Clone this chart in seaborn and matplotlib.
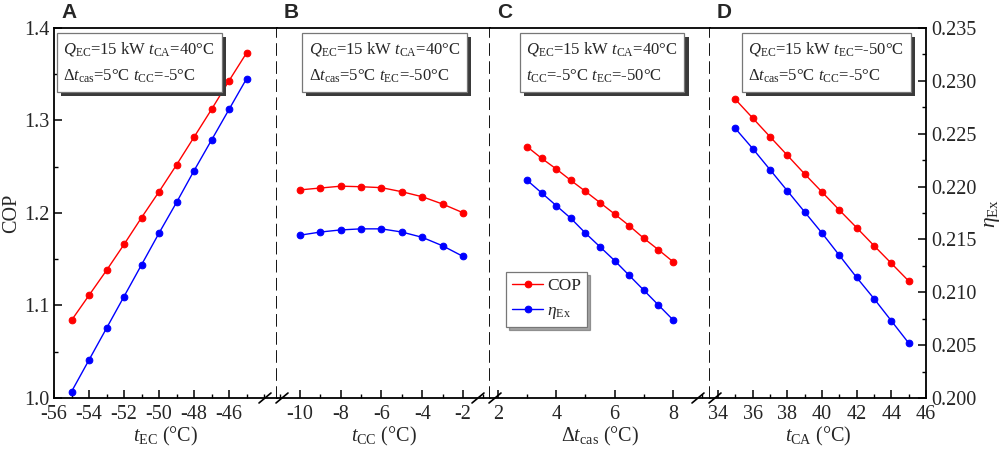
import matplotlib
matplotlib.use('Agg')
import matplotlib.pyplot as plt
import matplotlib.patheffects as pe
from matplotlib.lines import Line2D
from matplotlib.ticker import MultipleLocator, FormatStrFormatter
import seaborn as sns

# panel A: varying evaporating temperature t_EC
t_ec = [-55, -54, -53, -52, -51, -50, -49, -48, -47, -46, -45]
cop_a = [1.084, 1.111, 1.138, 1.166, 1.195, 1.223, 1.252, 1.282, 1.312, 1.343, 1.373]
eta_a = [0.2006, 0.2036, 0.2066, 0.2096, 0.2126, 0.2156, 0.2185, 0.2215, 0.2244, 0.2273, 0.2302]

# panel B: varying cascade condenser temperature t_CC
t_cc = [-10, -9, -8, -7, -6, -5, -4, -3, -2]
cop_b = [1.225, 1.227, 1.229, 1.2284, 1.2274, 1.223, 1.2176, 1.2097, 1.2003]
eta_b = [0.2154, 0.2157, 0.2159, 0.2160, 0.2160, 0.2157, 0.2152, 0.2144, 0.2134]

# panel C: varying cascade temperature difference
dt_cas = [3, 3.5, 4, 4.5, 5, 5.5, 6, 6.5, 7, 7.5, 8]
cop_c = [1.2717, 1.2591, 1.2476, 1.2353, 1.2234, 1.2112, 1.1989, 1.1863, 1.1727, 1.1603, 1.1474]
eta_c = [0.2206, 0.2194, 0.2182, 0.2170, 0.2156, 0.2143, 0.2130, 0.2116, 0.2102, 0.2088, 0.2074]

# panel D: varying condensing temperature t_CA
t_ca = [35, 36, 37, 38, 39, 40, 41, 42, 43, 44, 45]
cop_d = [1.3229, 1.3027, 1.2825, 1.2624, 1.2422, 1.2227, 1.2032, 1.1841, 1.1647, 1.1456, 1.1265]
eta_d = [0.2255, 0.2236, 0.2216, 0.2196, 0.2176, 0.2156, 0.2135, 0.2114, 0.2094, 0.2073, 0.2052]

# major x tick labels shown in each panel
xticks_a = [-56, -54, -52, -50, -48, -46]
xticks_b = [-10, -8, -6, -4, -2]
xticks_c = [2, 4, 6, 8]
xticks_d = [34, 36, 38, 40, 42, 44, 46]

panel_letters = ['A', 'B', 'C', 'D']
xlabels = [r'$t_\mathrm{EC}$ (°C)', r'$t_\mathrm{CC}$ (°C)',
           r'$\Delta t_\mathrm{cas}$ (°C)', r'$t_\mathrm{CA}$ (°C)']
box_texts = [
    r'$Q_\mathrm{EC}$=15 kW $t_\mathrm{CA}$=40°C' + '\n' + r'$\Delta t_\mathrm{cas}$=5°C $t_\mathrm{CC}$=-5°C',
    r'$Q_\mathrm{EC}$=15 kW $t_\mathrm{CA}$=40°C' + '\n' + r'$\Delta t_\mathrm{cas}$=5°C $t_\mathrm{EC}$=-50°C',
    r'$Q_\mathrm{EC}$=15 kW $t_\mathrm{CA}$=40°C' + '\n' + r'$t_\mathrm{CC}$=-5°C $t_\mathrm{EC}$=-50°C',
    r'$Q_\mathrm{EC}$=15 kW $t_\mathrm{EC}$=-50°C' + '\n' + r'$\Delta t_\mathrm{cas}$=5°C $t_\mathrm{CC}$=-5°C',
]
xs_all = [t_ec, t_cc, dt_cas, t_ca]
cops = [cop_a, cop_b, cop_c, cop_d]
etas = [eta_a, eta_b, eta_c, eta_d]
xticks_all = [xticks_a, xticks_b, xticks_c, xticks_d]
xlims = [(-56, -43.26), (-11.13, -0.67), (1.73, 9.27), (33.54, 46)]
box_x = [0.042, 0.148, 0.165, 0.178]

sns.set_theme(style='ticks')
plt.rcParams['font.family'] = ['Liberation Serif', 'DejaVu Serif']
plt.rcParams['mathtext.fontset'] = 'custom'
plt.rcParams['mathtext.rm'] = 'Liberation Serif'
plt.rcParams['mathtext.it'] = 'Liberation Serif:italic'
plt.rcParams['mathtext.bf'] = 'Liberation Serif:bold'
plt.rcParams['axes.unicode_minus'] = False
plt.rcParams['xtick.direction'] = 'in'
plt.rcParams['ytick.direction'] = 'in'

W, H = 1003, 454
edges = [54, 277, 490, 710, 926]
top, bottom = 28, 398

fig = plt.figure(figsize=(W / 100, H / 100), dpi=100)

line_kw = dict(marker='o', markersize=4.8, linewidth=1.0)
box_shadow = [pe.SimplePatchShadow(offset=(3, -3), shadow_rgbFace='#3a3a3a', alpha=1.0),
              pe.Normal()]

for i in range(4):
    ax = fig.add_axes([edges[i] / W, 1 - bottom / H,
                       (edges[i + 1] - edges[i]) / W, (bottom - top) / H])
    ax2 = ax.twinx()
    sns.lineplot(x=xs_all[i], y=cops[i], ax=ax, color='#ff0000',
                 markeredgecolor='#ff0000', legend=False, **line_kw)
    sns.lineplot(x=xs_all[i], y=etas[i], ax=ax2, color='#0000ff',
                 markeredgecolor='#0000ff', legend=False, **line_kw)

    ax.set_xlim(*xlims[i])
    ax.set_ylim(1.0, 1.4)
    ax2.set_ylim(0.200, 0.235)
    ax.set_xticks(xticks_all[i])
    ax.xaxis.set_minor_locator(MultipleLocator(1))
    ax.yaxis.set_major_locator(MultipleLocator(0.1))
    ax.yaxis.set_minor_locator(MultipleLocator(0.05))
    ax.yaxis.set_major_formatter(FormatStrFormatter('%.1f'))
    ax2.yaxis.set_major_locator(MultipleLocator(0.005))
    ax2.yaxis.set_minor_locator(MultipleLocator(0.0025))
    ax2.yaxis.set_major_formatter(FormatStrFormatter('%.3f'))

    for sp in ax.spines.values():
        sp.set_linewidth(1.3)
        sp.set_color('black')
    for sp in ax2.spines.values():
        sp.set_visible(False)
    ax.spines['left'].set_visible(i == 0)
    if i < 3:
        ax.spines['right'].set_linestyle((0, (6, 4)))
        ax.spines['right'].set_linewidth(1.3)
    else:
        ax.spines['right'].set_visible(False)
        ax2.spines['right'].set_visible(True)
        ax2.spines['right'].set_linewidth(1.3)
        ax2.spines['right'].set_color('black')

    ax.tick_params(axis='x', which='both', bottom=True, top=False, labelsize=14.5,
                   color='black', pad=5)
    ax.tick_params(axis='x', which='major', length=6, width=1.1)
    ax.tick_params(axis='x', which='minor', length=3, width=1.0)
    ax.tick_params(axis='y', which='both', left=(i == 0), right=False,
                   labelleft=(i == 0), labelsize=14.5, color='black')
    ax.tick_params(axis='y', which='major', length=6, width=1.1)
    ax.tick_params(axis='y', which='minor', length=3, width=1.0)
    ax2.tick_params(axis='y', which='both', left=False, right=(i == 3),
                    labelright=(i == 3), labelsize=14.5, color='black')
    ax2.tick_params(axis='y', which='major', length=6, width=1.1)
    ax2.tick_params(axis='y', which='minor', length=3, width=1.0)

    ax.set_xlabel(xlabels[i], fontsize=14.5, labelpad=1)
    if i == 0:
        ax.set_ylabel('COP', fontsize=14.5, labelpad=2)
    else:
        ax.set_ylabel('')
    if i == 3:
        ax2.set_ylabel(r'$\eta_\mathrm{Ex}$', fontsize=15.5, labelpad=5)
    else:
        ax2.set_ylabel('')
    ax.grid(False)
    ax2.grid(False)

    # parameter box with drop shadow
    txt = ax2.text(box_x[i], 0.968, box_texts[i], transform=ax2.transAxes, fontsize=12,
                   va='top', ha='left', linespacing=1.75,
                   bbox=dict(boxstyle='square,pad=0.4', facecolor='white',
                             edgecolor='#777777', linewidth=0.9))
    txt.get_bbox_patch().set_path_effects(box_shadow)

    fig.text((edges[i] + 7) / W, 1 - 13 / H, panel_letters[i], fontsize=15,
             fontweight='bold', family='Liberation Sans', va='center', ha='left')

    if i == 2:
        handles = [ax.lines[0], ax2.lines[0]]
        leg = ax2.legend(handles, ['COP', r'$\eta_\mathrm{Ex}$'], loc='upper left',
                         bbox_to_anchor=(0.073, 0.34), borderaxespad=0, fontsize=12.5,
                         frameon=True, fancybox=False, shadow=True, handlelength=1.8,
                         handletextpad=0.2, borderpad=0.35, labelspacing=0.5)
        leg.get_frame().set_edgecolor('#777777')
        leg.get_frame().set_linewidth(0.9)

# axis-break marks on the bottom axis
for e in edges[1:4]:
    for xc in (e - 12, e + 5):
        fig.add_artist(Line2D([(xc - 6) / W, (xc + 6) / W],
                              [1 - (bottom + 5) / H, 1 - (bottom - 5) / H],
                              transform=fig.transFigure, color='black', lw=1.2))

fig.savefig('out.png', dpi=100)
